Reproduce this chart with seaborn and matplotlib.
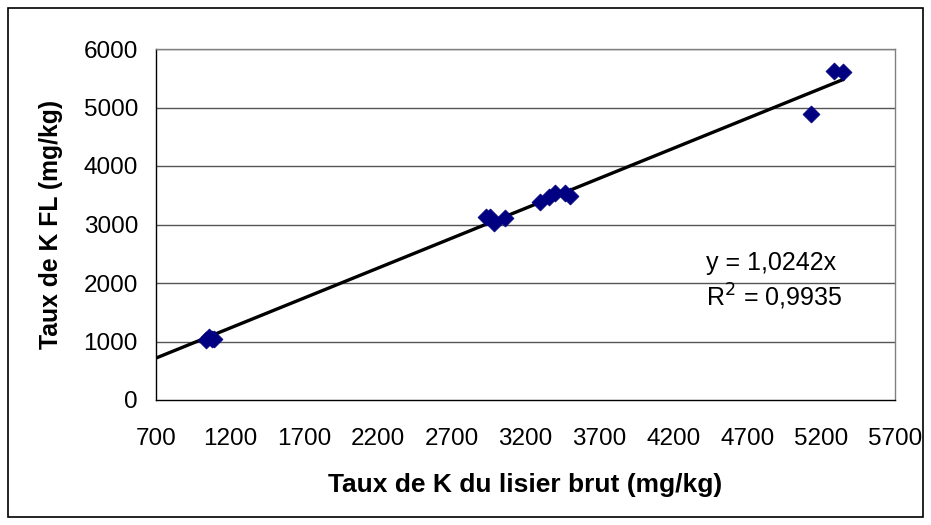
import numpy as np
import pandas as pd
import matplotlib
matplotlib.use("Agg")
import matplotlib.pyplot as plt
import seaborn as sns
from matplotlib.patches import Rectangle

# Data
lisier_brut = [1040, 1060, 1080, 1095,
               2930, 2960, 2985, 3060,
               3300, 3360, 3400, 3465, 3500,
               5130, 5290, 5350]
k_fl = [1030, 1070, 1045, 1050,
        3130, 3130, 3020, 3110,
        3390, 3470, 3540, 3530, 3490,
        4890, 5630, 5600]
slope = 1.0242
eq_text = "y = 1,0242x"
r2_text = "R$^2$ = 0,9935"
x_ticks = [700, 1200, 1700, 2200, 2700, 3200, 3700, 4200, 4700, 5200, 5700]
y_ticks = [0, 1000, 2000, 3000, 4000, 5000, 6000]
x_label = "Taux de K du lisier brut (mg/kg)"
y_label = "Taux de K FL (mg/kg)"

df = pd.DataFrame({"x": lisier_brut, "y": k_fl})

sns.set_style("white")
plt.rcParams["font.family"] = ["Liberation Sans", "DejaVu Sans"]
plt.rcParams["text.color"] = "black"
plt.rcParams["axes.labelcolor"] = "black"
plt.rcParams["xtick.color"] = "black"
plt.rcParams["ytick.color"] = "black"

fig = plt.figure(figsize=(9.31, 5.25), dpi=100)
ax = fig.add_axes([156/931, 1-400/525, (895-156)/931, (400-49)/525])

# gridlines
for yv in y_ticks[1:]:
    ax.axhline(yv, color="#555555", lw=1.0, zorder=0)

# trendline
xl = np.array([x_ticks[0], max(lisier_brut)])
sns.lineplot(x=xl, y=slope * xl, ax=ax, color="black", lw=2.4, zorder=2)

sns.scatterplot(data=df, x="x", y="y", ax=ax, marker="D", color="#000080",
                s=75, edgecolor="#000080", linewidth=0.5, zorder=3)

ax.set_xlim(x_ticks[0], x_ticks[-1])
ax.set_ylim(y_ticks[0], y_ticks[-1])
ax.set_xticks(x_ticks)
ax.set_yticks(y_ticks)
ax.tick_params(axis="both", direction="out", length=6, width=1, color="black",
               labelsize=17.5, pad=7)
ax.tick_params(axis="x", pad=14)

for s in ["left", "bottom"]:
    ax.spines[s].set_color("black")
    ax.spines[s].set_linewidth(1.0)
for s in ["top", "right"]:
    ax.spines[s].set_color("#808080")
    ax.spines[s].set_linewidth(1.0)

ax.set_xlabel(x_label, fontsize=19, fontweight="bold", labelpad=17)
ax.set_ylabel(y_label, fontsize=17.8, fontweight="bold", labelpad=15)

ax.text(706/931, 1-263/525, eq_text, transform=fig.transFigure, fontsize=18,
        ha="left", va="center")
ax.text(706/931, 1-297/525, r2_text, transform=fig.transFigure, fontsize=18,
        ha="left", va="center")

fig.patches.append(Rectangle((8/931, 8/525), 915/931, 509/525, transform=fig.transFigure,
                             fill=False, edgecolor="black", lw=1.2))

fig.savefig("out.png", dpi=100)
